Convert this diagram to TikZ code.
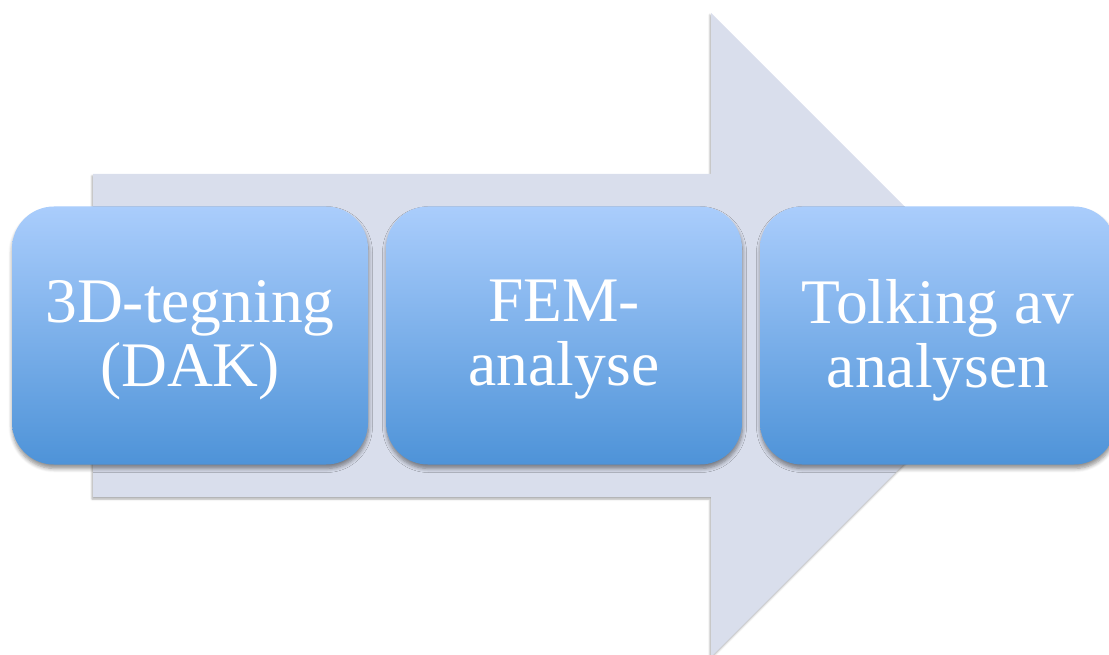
\documentclass[tikz,border=0pt]{standalone}
\usepackage{fontspec}
\setmainfont{Liberation Serif}
\usetikzlibrary{shadows.blur}
\definecolor{arrowfill}{HTML}{D9DEEC}
\definecolor{boxtop}{HTML}{AACDFC}
\definecolor{boxbot}{HTML}{4E93D8}
\begin{document}
\begin{tikzpicture}[x=1pt,y=-1pt,
  stepbox/.style={rounded corners=42pt, minimum width=356pt, minimum height=258pt,
    inner sep=0pt, top color=boxtop, bottom color=boxbot,
    blur shadow={shadow xshift=0.5pt, shadow yshift=-4pt, shadow blur steps=6,
      shadow opacity=45, shadow blur radius=4pt}},
  steptext/.style={text=white, align=center, inner sep=0pt,
    font=\fontsize{63.5}{64}\selectfont},
  bigarrow/.style={fill=arrowfill,
    blur shadow={shadow xshift=-1pt, shadow yshift=-2pt, shadow blur steps=4,
      shadow opacity=35, shadow blur radius=2pt}}]
  \useasboundingbox (0,0) rectangle (1109,655);
  % wide process arrow behind the steps
  \path[bigarrow] (93,174) -- (711,174) -- (711,13) -- (1033,335) -- (711,657)
    -- (711,497) -- (93,497) -- cycle;
  % the three steps
  \node[stepbox] (cad) at (190,335.5) {};
  \node[stepbox] (fem) at (564,335.5) {};
  \node[stepbox] (tolk) at (938,335.5) {};
  % their labels
  \node[steptext] (cad-t) at ([yshift=-4.5pt]cad.center) {3D-tegning\\(DAK)};
  \node[steptext] (fem-t) at ([yshift=-4.5pt]fem.center) {FEM-\\analyse};
  \node[steptext] (tolk-t) at ([yshift=-4.5pt]tolk.center) {Tolking av\\analysen};
\end{tikzpicture}
\end{document}
